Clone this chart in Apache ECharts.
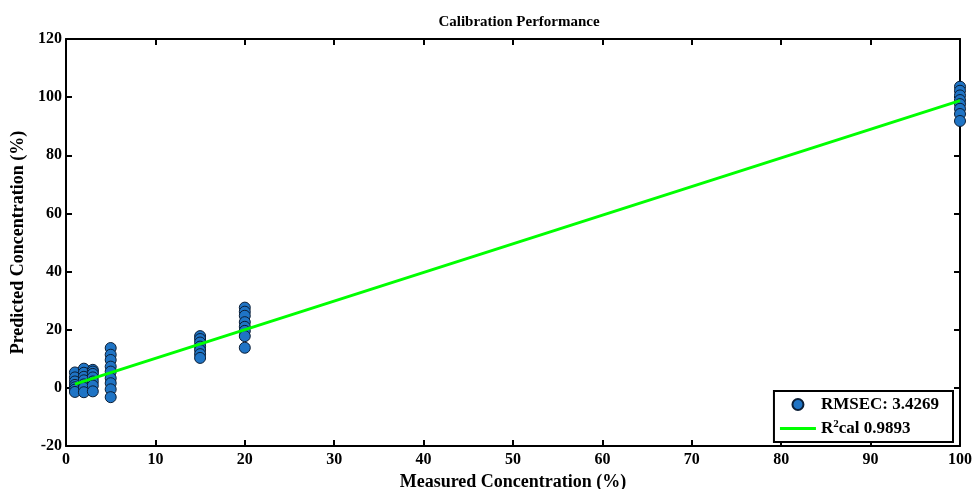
<!DOCTYPE html>
<html>
<head>
<meta charset="utf-8">
<script src="https://cdn.jsdelivr.net/npm/echarts@6/dist/echarts.min.js"></script>
<style>
html,body{margin:0;padding:0;background:#fff;}
#chart{width:972px;height:489px;}
</style>
</head>
<body>
<div id="chart"></div>
<script>
// ---- data ----
const measured1 = [1, 1, 1, 1, 1, 1, 1];
const predicted1 = [5.3, 3.6, 2.2, 1.0, 0.2, -0.6, -1.4];
const measured2 = [2, 2, 2, 2, 2, 2, 2];
const predicted2 = [6.6, 5.2, 3.8, 2.6, 1.2, 0.0, -1.5];
const measured3 = [3, 3, 3, 3, 3, 3, 3];
const predicted3 = [6.2, 5.6, 4.8, 3.6, 2.2, 0.8, -1.2];
const measured5 = [5, 5, 5, 5, 5, 5, 5, 5, 5];
const predicted5 = [13.7, 11.4, 9.6, 7.3, 5.6, 3.3, 1.6, -0.5, -3.2];
const measured15 = [15, 15, 15, 15, 15, 15, 15];
const predicted15 = [17.8, 16.8, 15.6, 14.2, 13.0, 11.6, 10.3];
const measured20 = [20, 20, 20, 20, 20, 20, 20, 20];
const predicted20 = [27.6, 26.2, 24.8, 22.6, 21.0, 19.6, 17.8, 13.8];
const measured100 = [100, 100, 100, 100, 100, 100, 100, 100];
const predicted100 = [103.6, 102.2, 100.6, 99.0, 97.6, 96.0, 94.2, 91.8];

const fitX = [1, 100];
const fitY = [1.3, 98.8];

const xTicks = [0, 10, 20, 30, 40, 50, 60, 70, 80, 90, 100];
const yTicks = [-20, 0, 20, 40, 60, 80, 100, 120];

const scatterName = 'RMSEC: 3.4269';
const lineName = 'R2cal 0.9893';

// ---- build ----
const allX = [].concat(measured1, measured2, measured3, measured5, measured15, measured20, measured100);
const allY = [].concat(predicted1, predicted2, predicted3, predicted5, predicted15, predicted20, predicted100);
const scatterData = allX.map((x, i) => [x, allY[i]]);
const lineData = fitX.map((x, i) => [x, fitY[i]]);

const FONT = '"Liberation Serif", "Times New Roman", serif';

const chart = echarts.init(document.getElementById('chart'), null, {renderer: 'canvas'});

function axisCommon(showLabel) {
  return {
    axisLine: {show: true, onZero: false, lineStyle: {color: '#000', width: 2}},
    axisTick: {show: true, inside: true, length: 6, lineStyle: {color: '#000', width: 2}},
    splitLine: {show: false},
    axisLabel: showLabel ? {show: true} : {show: false}
  };
}

const option = {
  backgroundColor: '#fff',
  animation: false,
  title: {
    text: 'Calibration Performance',
    left: 514,
    textAlign: 'center',
    top: 10,
    textStyle: {fontFamily: FONT, fontWeight: 'bold', fontSize: 15, color: '#000'}
  },
  grid: {left: 66, right: 12, top: 39, bottom: 43, containLabel: false, outerBoundsMode: 'none'},
  xAxis: [
    Object.assign(axisCommon(true), {
      type: 'value', min: xTicks[0], max: xTicks[xTicks.length - 1], interval: 10,
      position: 'bottom',
      name: 'Measured Concentration (%)', nameLocation: 'middle', nameGap: 25,
      nameTextStyle: {fontFamily: FONT, fontWeight: 'bold', fontSize: 18, color: '#000'},
      axisLabel: {show: true, margin: 6, fontFamily: FONT, fontWeight: 'bold', fontSize: 16, color: '#000'}
    }),
    Object.assign(axisCommon(false), {
      type: 'value', min: xTicks[0], max: xTicks[xTicks.length - 1], interval: 10,
      position: 'top'
    })
  ],
  yAxis: [
    Object.assign(axisCommon(true), {
      type: 'value', min: yTicks[0], max: yTicks[yTicks.length - 1], interval: 20,
      position: 'left',
      name: 'Predicted Concentration (%)', nameLocation: 'middle', nameGap: 37,
      nameTextStyle: {fontFamily: FONT, fontWeight: 'bold', fontSize: 18, color: '#000'},
      axisLabel: {show: true, margin: 4, fontFamily: FONT, fontWeight: 'bold', fontSize: 16, color: '#000'}
    }),
    Object.assign(axisCommon(false), {
      type: 'value', min: yTicks[0], max: yTicks[yTicks.length - 1], interval: 20,
      position: 'right'
    })
  ],
  legend: {
    orient: 'vertical',
    right: 19,
    bottom: 47,
    backgroundColor: '#fff',
    borderColor: '#000',
    borderWidth: 2,
    padding: [5, 14, 5, 6],
    itemGap: 6,
    itemWidth: 36,
    itemHeight: 11,
    data: [
      {name: scatterName, icon: 'circle'},
      {name: lineName, icon: 'path://M0 0 H36 V3 H0 Z', itemStyle: {color: '#00FF00', borderWidth: 0}}
    ],
    formatter: function (name) {
      if (name === lineName) return '{a|R}{sup|2}{a|cal 0.9893}';
      return '{a|' + name + '}';
    },
    textStyle: {
      fontFamily: FONT, fontWeight: 'bold', fontSize: 17, color: '#000',
      rich: {
        a: {fontFamily: FONT, fontWeight: 'bold', fontSize: 17, color: '#000'},
        sup: {fontFamily: FONT, fontWeight: 'bold', fontSize: 11, color: '#000', padding: [0, 0, 8, 0]}
      }
    }
  },
  series: [
    {
      name: scatterName,
      type: 'scatter',
      xAxisIndex: 0, yAxisIndex: 0,
      symbol: 'circle',
      symbolSize: 11,
      itemStyle: {color: '#1F74C5', borderColor: '#0B1E36', borderWidth: 1, opacity: 1},
      data: scatterData,
      z: 2
    },
    {
      name: lineName,
      type: 'line',
      xAxisIndex: 0, yAxisIndex: 0,
      symbol: 'none',
      lineStyle: {color: '#00FF00', width: 3},
      itemStyle: {color: '#00FF00'},
      data: lineData,
      z: 3
    }
  ]
};

chart.setOption(option);
</script>
</body>
</html>
